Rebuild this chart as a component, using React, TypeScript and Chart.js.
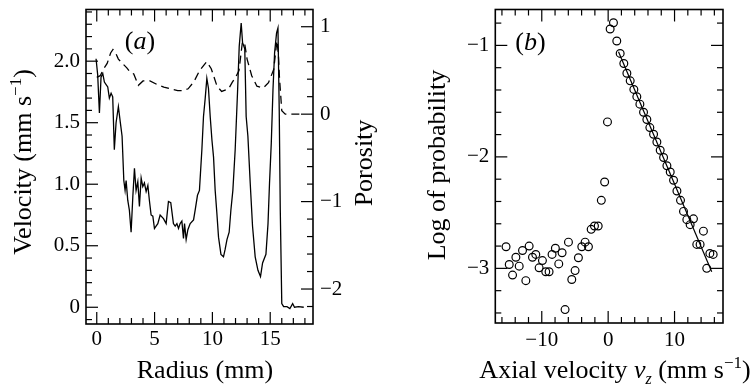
import React, { useEffect, useRef } from "react";
import { Chart, registerables } from "chart.js";
Chart.register(...registerables);

// ---------- Panel (a) data ----------
const radius = [
  -0.06, 0.08, 0.23, 0.37, 0.52, 0.66, 0.81, 0.95, 1.09, 1.24, 1.38, 1.52, 1.67, 1.87, 2.04, 2.19,
  2.34, 2.45, 2.54, 2.68, 2.82, 2.97, 3.12, 3.26, 3.4, 3.55, 3.69, 3.84, 3.98, 4.12, 4.27, 4.42,
  4.55, 4.7, 4.85, 4.99, 5.13, 5.28, 5.48, 5.77, 6.0, 6.2, 6.4, 6.63, 6.78, 6.93, 7.07, 7.21,
  7.36, 7.5, 7.59, 7.73, 7.88, 8.08, 8.37, 8.51, 8.71, 8.88, 9.09, 9.23, 9.38, 9.52, 9.66, 9.81,
  9.96, 10.1, 10.24, 10.39, 10.53, 10.74, 10.96, 11.1, 11.26, 11.45, 11.6, 11.77, 11.97, 12.17,
  12.32, 12.49, 12.61, 12.8, 12.92, 13.07, 13.27, 13.47, 13.7, 13.94, 14.16, 14.34, 14.63, 14.81,
  14.94, 15.09, 15.24, 15.38, 15.55, 15.67, 15.78, 15.87, 16.0, 16.16, 16.45, 16.7, 16.94, 17.1,
  17.45, 17.9,
];
const velocity = [
  2.02, 1.89, 1.58, 1.87, 1.9, 1.83, 1.81, 1.79, 1.7, 1.74, 1.71, 1.28, 1.5, 1.63, 1.5, 1.39,
  1.03, 0.95, 1.03, 0.87, 0.79, 0.61, 0.9, 1.13, 0.95, 1.02, 0.82, 1.05, 0.98, 1.01, 0.94, 0.99,
  0.87, 0.75, 0.74, 0.64, 0.66, 0.68, 0.75, 0.72, 0.68, 0.86, 0.85, 0.68, 0.66, 0.68, 0.64, 0.68,
  0.7, 0.56, 0.68, 0.55, 0.63, 0.68, 0.71, 0.79, 0.91, 0.95, 1.28, 1.55, 1.7, 1.86, 1.78, 1.55,
  1.36, 1.22, 0.95, 0.76, 0.57, 0.43, 0.41, 0.47, 0.55, 0.61, 0.79, 0.95, 1.28, 1.74,
  2.12, 2.31, 2.15, 2.1, 1.55, 1.39, 1.01, 0.66, 0.41, 0.3, 0.25, 0.36, 0.43, 0.68,
  1.01, 1.33, 1.77, 2.07, 2.23, 2.27, 1.6, 0.79, 0.03, 0.005, 0.005, -0.01, 0.03, 0.0,
  0.005, 0.0,
];
const porosityRadius = [
  0.0, 0.3, 0.6, 0.9, 1.2, 1.4, 1.6, 1.87, 2.3, 2.6, 2.9, 3.2, 3.6, 4.0, 4.6, 5.2, 5.8, 6.4, 7.0,
  7.5, 7.9, 8.4, 8.9, 9.5, 9.9, 10.4, 10.8, 11.4, 11.7, 12.0, 12.3, 12.6, 12.8, 13.0, 13.4, 13.85,
  14.4, 14.85, 15.3, 15.58, 15.7, 15.8, 16.0, 16.3, 17.9,
];
const porosity = [
  0.42, 0.44, 0.52, 0.58, 0.7, 0.74, 0.71, 0.63, 0.57, 0.53, 0.48, 0.46, 0.33, 0.38, 0.38, 0.34,
  0.31, 0.29, 0.27, 0.27, 0.29, 0.37, 0.5, 0.6, 0.52, 0.32, 0.26, 0.29, 0.36, 0.42, 0.5, 0.83,
  0.8, 0.63, 0.44, 0.32, 0.3, 0.36, 0.51, 0.84, 0.7, 0.42, 0.04, 0.0, 0.0,
];
const radiusTicks = [0, 5, 10, 15];
const velocityTicks = [0, 0.5, 1.0, 1.5, 2.0];
const porosityTicks = [-2, -1, 0, 1];

// ---------- Panel (b) data ----------
const axialVelocity = [
  -15.38, -14.9, -14.4, -13.9, -13.4, -12.9, -12.4, -11.9, -11.4, -10.9, -10.4, -9.9, -9.4, -8.9,
  -8.45, -7.95, -7.44, -6.94, -6.49, -5.98, -5.48, -4.98, -4.48, -3.97, -3.47, -2.97, -2.56, -2.06,
  -1.5, -1.03, -0.53, -0.1, 0.3, 0.8, 1.3, 1.81, 2.36, 2.82, 3.32, 3.87, 4.32, 4.78, 5.33, 5.83,
  6.28, 6.84, 7.34, 7.84, 8.35, 8.85, 9.35, 9.85, 10.36, 10.9, 11.35, 11.85, 12.35, 12.85, 13.35,
  13.85, 14.35, 14.85, 15.32, 15.82,
];
const logProbability = [
  -2.806, -2.965, -3.06, -2.9, -2.98, -2.84, -3.11, -2.8, -2.9, -2.875, -2.995, -2.93, -3.03, -3.03,
  -2.875, -2.82, -2.96, -2.86, -3.37, -2.765, -3.1, -3.02, -2.905, -2.806, -2.765, -2.806, -2.65,
  -2.62, -2.62, -2.39, -2.225, -1.686, -0.853, -0.797, -0.961, -1.072, -1.162, -1.25, -1.318,
  -1.395, -1.46, -1.527, -1.6, -1.665, -1.737, -1.797, -1.866, -1.94, -2.006, -2.08, -2.136,
  -2.21, -2.306, -2.39, -2.489, -2.563, -2.608, -2.556, -2.785, -2.785, -2.666, -3.0, -2.866,
  -2.875,
];
const fitVelocity = [1.56, 15.6];
const fitLogProbability = [-1.057, -3.03];
const axialTicks = [-10, 0, 10];
const logProbTicks = [-3, -2, -1];

// ---------- helpers ----------
const SERIF = '"Liberation Serif", "Times New Roman", serif';
const TICK_FONT = { family: SERIF, size: 21 };
const range = (a: number, b: number, step: number) => {
  const out: number[] = [];
  for (let v = a; v <= b + 1e-9; v += step) out.push(Math.round(v * 1000) / 1000);
  return out;
};
const minus = (v: number, s: string) => (v < 0 ? "\u2212" + s.replace("-", "") : s);

type Seg = { t: string; f: string; dy?: number };
function drawRich(ctx: CanvasRenderingContext2D, segs: Seg[], x: number, y: number, rot: number) {
  ctx.save();
  ctx.translate(x, y);
  ctx.rotate(rot);
  ctx.textBaseline = "alphabetic";
  ctx.textAlign = "left";
  ctx.fillStyle = "#000";
  let w = 0;
  const ws = segs.map((s) => {
    ctx.font = s.f;
    const m = ctx.measureText(s.t).width;
    w += m;
    return m;
  });
  let cx = -w / 2;
  segs.forEach((s, i) => {
    ctx.font = s.f;
    ctx.fillText(s.t, cx, s.dy || 0);
    cx += ws[i];
  });
  ctx.restore();
}

type TickSpec = { scale: string; major: number[]; minor: number[]; side: "left" | "right" | "top" | "bottom" };
type TextSpec = { segs: Seg[]; x: number; y: number; rot: number };

function decorPlugin(ticks: TickSpec[], texts: TextSpec[]) {
  return {
    id: "decor",
    afterDraw(chart: any) {
      const ctx: CanvasRenderingContext2D = chart.ctx;
      const a = chart.chartArea;
      ctx.save();
      ctx.strokeStyle = "#000";
      ctx.lineWidth = 1.2;
      for (const t of ticks) {
        const sc = chart.scales[t.scale];
        const draw = (v: number, len: number) => {
          const p = sc.getPixelForValue(v);
          ctx.beginPath();
          if (t.side === "bottom") { if (p < a.left + 1 || p > a.right - 1) return; ctx.moveTo(p, a.bottom); ctx.lineTo(p, a.bottom - len); }
          if (t.side === "top") { if (p < a.left + 1 || p > a.right - 1) return; ctx.moveTo(p, a.top); ctx.lineTo(p, a.top + len); }
          if (t.side === "left") { if (p < a.top + 1 || p > a.bottom - 1) return; ctx.moveTo(a.left, p); ctx.lineTo(a.left + len, p); }
          if (t.side === "right") { if (p < a.top + 1 || p > a.bottom - 1) return; ctx.moveTo(a.right, p); ctx.lineTo(a.right - len, p); }
          ctx.stroke();
        };
        t.minor.forEach((v) => { if (!t.major.includes(v)) draw(v, 6); });
        t.major.forEach((v) => draw(v, 12));
      }
      ctx.lineWidth = 1.6;
      ctx.strokeRect(a.left, a.top, a.right - a.left, a.bottom - a.top);
      ctx.restore();
      for (const s of texts) drawRich(ctx, s.segs, s.x, s.y, s.rot);
    },
  };
}

const T = (size: number, italic = false) => `${italic ? "italic " : ""}${size}px ${SERIF}`;

function axisBase(min: number, max: number, position: string, values: number[], fmt: (v: number) => string, pad: number, size: number) {
  const horizontal = position === "bottom" || position === "top";
  return {
    type: "linear" as const,
    min,
    max,
    position,
    grid: { display: false, drawTicks: false },
    border: { display: false },
    ticks: { font: TICK_FONT, color: "#000", padding: pad, autoSkip: false, maxRotation: 0, callback: (v: any) => fmt(Number(v)) },
    afterBuildTicks: (s: any) => { s.ticks = values.map((value) => ({ value })); },
    afterFit: (s: any) => {
      if (horizontal) s.height = size; else s.width = size;
      s.paddingTop = 0; s.paddingBottom = 0; s.paddingLeft = 0; s.paddingRight = 0;
    },
  };
}

export default function App() {
  const refA = useRef<HTMLCanvasElement>(null);
  const refB = useRef<HTMLCanvasElement>(null);

  useEffect(() => {
    const chartA = new Chart(refA.current!, {
      type: "line",
      data: {
        datasets: [
          {
            data: radius.map((x, i) => ({ x, y: velocity[i] })),
            borderColor: "#000", borderWidth: 1.3, pointRadius: 0, tension: 0, yAxisID: "y", xAxisID: "x",
          },
          {
            data: porosityRadius.map((x, i) => ({ x, y: porosity[i] })),
            borderColor: "#000", borderWidth: 1.3, borderDash: [8, 5], pointRadius: 0, tension: 0, yAxisID: "y2", xAxisID: "x",
          },
        ],
      },
      options: {
        responsive: false,
        animation: false,
        events: [],
        layout: { padding: { top: 9.5, left: 0, right: 0, bottom: 0 } },
        plugins: { legend: { display: false }, tooltip: { enabled: false } },
        scales: {
          x: axisBase(-0.93, 18.7, "bottom", radiusTicks, (v) => String(v), 2.5, 62),
          y: axisBase(-0.136, 2.42, "left", velocityTicks, (v) => (v === 0 ? "0" : v.toFixed(1)), 6, 86),
          y2: axisBase(-2.4, 1.197, "right", porosityTicks, (v) => minus(v, String(v)), 7, 65),
        } as any,
      },
      plugins: [
        decorPlugin(
          [
            { scale: "x", major: radiusTicks, minor: range(0, 18, 1), side: "bottom" },
            { scale: "x", major: radiusTicks, minor: range(0, 18, 1), side: "top" },
            { scale: "y", major: velocityTicks, minor: range(-0.1, 2.4, 0.1), side: "left" },
            { scale: "y2", major: porosityTicks, minor: range(-2.2, 1.0, 0.2), side: "right" },
          ],
          [
            { segs: [{ t: "Radius (mm)", f: T(26) }], x: 205, y: 378, rot: 0 },
            {
              segs: [
                { t: "Velocity (mm s", f: T(26) },
                { t: "\u22121", f: T(17), dy: -10 },
                { t: ")", f: T(26) },
              ],
              x: 31, y: 162, rot: -Math.PI / 2,
            },
            { segs: [{ t: "Porosity", f: T(26) }], x: 372, y: 163, rot: -Math.PI / 2 },
            {
              segs: [
                { t: "(", f: T(26) },
                { t: "a", f: T(26, true) },
                { t: ")", f: T(26) },
              ],
              x: 140, y: 49, rot: 0,
            },
          ]
        ),
      ],
    } as any);

    const chartB = new Chart(refB.current!, {
      type: "scatter",
      data: {
        datasets: [
          {
            type: "scatter",
            data: axialVelocity.map((x, i) => ({ x, y: logProbability[i] })),
            borderColor: "#000", backgroundColor: "rgba(0,0,0,0)", pointRadius: 3.9, pointBorderWidth: 1.2,
            pointBackgroundColor: "rgba(0,0,0,0)", pointBorderColor: "#000",
          },
          {
            type: "line",
            data: fitVelocity.map((x, i) => ({ x, y: fitLogProbability[i] })),
            borderColor: "#000", borderWidth: 1.2, pointRadius: 0, showLine: true, tension: 0,
          },
        ],
      },
      options: {
        responsive: false,
        animation: false,
        events: [],
        layout: { padding: { top: 9.5, left: 0, right: 33, bottom: 0 } },
        plugins: { legend: { display: false }, tooltip: { enabled: false } },
        scales: {
          x: axisBase(-17.0, 17.3, "bottom", axialTicks, (v) => minus(v, String(v)), 4.5, 63),
          y: axisBase(-3.49, -0.678, "left", logProbTicks, (v) => minus(v, String(v)), 6, 117.3),
        } as any,
      },
      plugins: [
        decorPlugin(
          [
            { scale: "x", major: axialTicks, minor: range(-16, 16, 2), side: "bottom" },
            { scale: "x", major: axialTicks, minor: range(-16, 16, 2), side: "top" },
            { scale: "y", major: logProbTicks, minor: range(-3.4, -0.8, 0.2), side: "left" },
            { scale: "y", major: logProbTicks, minor: range(-3.4, -0.8, 0.2), side: "right" },
          ],
          [
            {
              segs: [
                { t: "Axial velocity ", f: T(26) },
                { t: "v", f: T(26, true) },
                { t: "z", f: T(16, true), dy: 6 },
                { t: " (mm s", f: T(26) },
                { t: "\u22121", f: T(17), dy: -10 },
                { t: ")", f: T(26) },
              ],
              x: 237, y: 378, rot: 0,
            },
            { segs: [{ t: "Log of probability", f: T(26) }], x: 67, y: 165, rot: -Math.PI / 2 },
            {
              segs: [
                { t: "(", f: T(26) },
                { t: "b", f: T(26, true) },
                { t: ")", f: T(26) },
              ],
              x: 152.5, y: 50, rot: 0,
            },
          ]
        ),
      ],
    } as any);

    return () => {
      chartA.destroy();
      chartB.destroy();
    };
  }, []);

  return (
    <div style={{ position: "absolute", left: 0, top: 0, width: 756, height: 386, background: "#fff", display: "flex" }}>
      <canvas ref={refA} width={378} height={386} style={{ display: "block", width: 378, height: 386 }} />
      <canvas ref={refB} width={378} height={386} style={{ display: "block", width: 378, height: 386 }} />
    </div>
  );
}
